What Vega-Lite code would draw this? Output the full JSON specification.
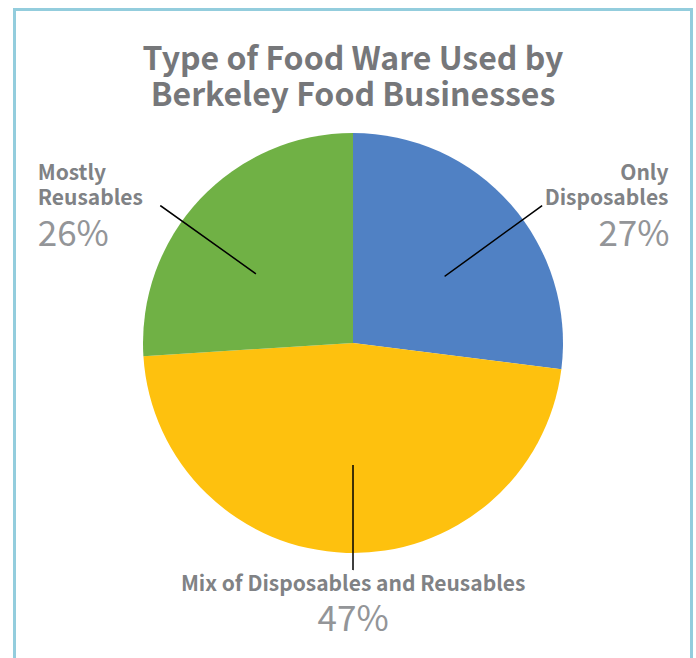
{
  "$schema": "https://vega.github.io/schema/vega-lite/v6.json",
  "width": 677,
  "height": 667,
  "autosize": {"type": "none"},
  "padding": {"left": 14.5, "top": 9.5, "right": 4.5, "bottom": -18.5},
  "background": "white",
  "view": {"stroke": "#93CDDD", "strokeWidth": 3, "fill": "white"},
  "title": {
    "text": ["Type of Food Ware Used by", "Berkeley Food Businesses"],
    "font": "Noto Sans CJK SC",
    "fontSize": 32,
    "fontWeight": "bold",
    "color": "#76777A",
    "lineHeight": 36,
    "anchor": "middle",
    "frame": "group",
    "offset": -103
  },
  "data": {
    "values": [
      {"type": "Only Disposables", "pct": 0.27, "order": 1},
      {"type": "Mix of Disposables and Reusables", "pct": 0.47, "order": 2},
      {"type": "Mostly Reusables", "pct": 0.26, "order": 3}
    ]
  },
  "transform": [
    {"stack": "pct", "groupby": [], "sort": [{"field": "order", "order": "ascending"}], "as": ["start", "end"]}
  ],
  "layer": [
    {
      "mark": {"type": "arc", "radius": 210},
      "encoding": {
        "theta": {"field": "start", "type": "quantitative", "scale": {"domain": [0, 1]}},
        "theta2": {"field": "end"},
        "color": {
          "field": "type",
          "type": "nominal",
          "scale": {
            "domain": ["Only Disposables", "Mix of Disposables and Reusables", "Mostly Reusables"],
            "range": ["#5081C4", "#FEC10E", "#70B145"]
          },
          "legend": null
        }
      }
    },
    {
      "transform": [{"filter": {"field": "type", "equal": "Only Disposables"}}],
      "mark": {"type": "arc", "radius": 233, "radius2": 114, "thetaOffset": 0.9425, "theta2Offset": -0.754, "filled": false, "stroke": "black", "strokeWidth": 1.5},
      "encoding": {
        "theta": {"field": "start", "type": "quantitative", "scale": {"domain": [0, 1]}},
        "theta2": {"field": "end"}
      }
    },
    {
      "transform": [{"filter": {"field": "type", "equal": "Mix of Disposables and Reusables"}}],
      "mark": {"type": "arc", "radius": 227, "radius2": 122, "thetaOffset": 1.4451, "theta2Offset": -1.508, "filled": false, "stroke": "black", "strokeWidth": 1.5},
      "encoding": {
        "theta": {"field": "start", "type": "quantitative", "scale": {"domain": [0, 1]}},
        "theta2": {"field": "end"}
      }
    },
    {
      "transform": [{"filter": {"field": "type", "equal": "Mostly Reusables"}}],
      "mark": {"type": "arc", "radius": 236, "radius2": 120, "thetaOffset": 0.6824, "theta2Offset": -0.9512, "filled": false, "stroke": "black", "strokeWidth": 1.5},
      "encoding": {
        "theta": {"field": "start", "type": "quantitative", "scale": {"domain": [0, 1]}},
        "theta2": {"field": "end"}
      }
    },
    {
      "transform": [{"filter": {"field": "type", "equal": "Only Disposables"}}],
      "mark": {"type": "text", "radius": 250, "thetaOffset": 0.8482, "align": "right", "baseline": "alphabetic", "dx": 128, "dy": 2, "font": "Noto Sans CJK SC", "fontSize": 21, "fontWeight": "bold", "color": "#808285", "lineBreak": " ", "lineHeight": 25},
      "encoding": {
        "theta": {"field": "start", "type": "quantitative", "scale": {"domain": [0, 1]}},
        "text": {"field": "type"}
      }
    },
    {
      "transform": [{"filter": {"field": "type", "equal": "Only Disposables"}}],
      "mark": {"type": "text", "radius": 250, "thetaOffset": 0.8482, "align": "right", "baseline": "alphabetic", "dx": 129, "dy": 68, "font": "Noto Sans CJK SC", "fontSize": 35, "color": "#939598"},
      "encoding": {
        "theta": {"field": "start", "type": "quantitative", "scale": {"domain": [0, 1]}},
        "text": {"field": "pct", "type": "quantitative", "format": ".0%"}
      }
    },
    {
      "transform": [{"filter": {"field": "type", "equal": "Mostly Reusables"}}],
      "mark": {"type": "text", "radius": 250, "thetaOffset": 0.8168, "align": "left", "baseline": "alphabetic", "dx": -133, "dy": 8, "font": "Noto Sans CJK SC", "fontSize": 21, "fontWeight": "bold", "color": "#808285", "lineBreak": " ", "lineHeight": 25},
      "encoding": {
        "theta": {"field": "start", "type": "quantitative", "scale": {"domain": [0, 1]}},
        "text": {"field": "type"}
      }
    },
    {
      "transform": [{"filter": {"field": "type", "equal": "Mostly Reusables"}}],
      "mark": {"type": "text", "radius": 250, "thetaOffset": 0.8168, "align": "left", "baseline": "alphabetic", "dx": -133, "dy": 74, "font": "Noto Sans CJK SC", "fontSize": 35, "color": "#939598"},
      "encoding": {
        "theta": {"field": "start", "type": "quantitative", "scale": {"domain": [0, 1]}},
        "text": {"field": "pct", "type": "quantitative", "format": ".0%"}
      }
    },
    {
      "transform": [{"filter": {"field": "type", "equal": "Mix of Disposables and Reusables"}}],
      "mark": {"type": "text", "radius": 250, "thetaOffset": 1.4765, "align": "center", "baseline": "alphabetic", "dx": 8, "dy": -2, "font": "Noto Sans CJK SC", "fontSize": 21, "fontWeight": "bold", "color": "#808285"},
      "encoding": {
        "theta": {"field": "start", "type": "quantitative", "scale": {"domain": [0, 1]}},
        "text": {"field": "type"}
      }
    },
    {
      "transform": [{"filter": {"field": "type", "equal": "Mix of Disposables and Reusables"}}],
      "mark": {"type": "text", "radius": 250, "thetaOffset": 1.4765, "align": "center", "baseline": "alphabetic", "dx": 8, "dy": 38, "font": "Noto Sans CJK SC", "fontSize": 35, "color": "#939598"},
      "encoding": {
        "theta": {"field": "start", "type": "quantitative", "scale": {"domain": [0, 1]}},
        "text": {"field": "pct", "type": "quantitative", "format": ".0%"}
      }
    }
  ]
}
